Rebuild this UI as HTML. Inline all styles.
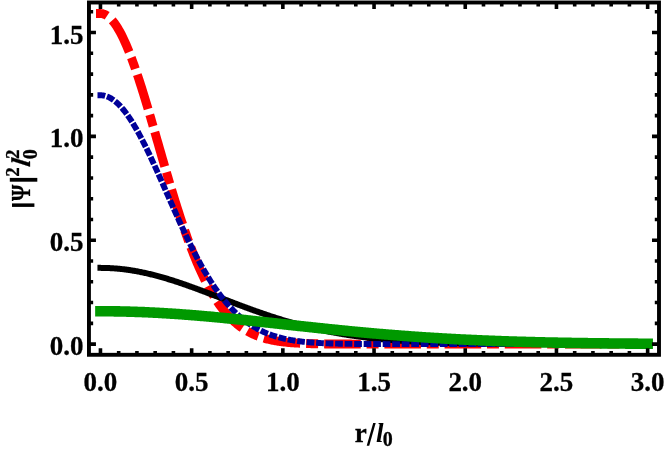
<!DOCTYPE html>
<html><head><meta charset="utf-8"><title>plot</title>
<style>
html,body{margin:0;padding:0;background:#fff;}
body{width:664px;height:450px;overflow:hidden;font-family:"Liberation Serif",serif;}
svg{display:block;}
.t{filter:grayscale(1);}
</style></head><body>
<svg width="664" height="450" viewBox="0 0 664 450">
<rect width="664" height="450" fill="#fff"/>
<g fill="none" stroke-linejoin="round">
<path d="M96.00 13.54 L100.45 13.54 L101.36 13.58 L102.27 13.70 L103.19 13.91 L104.10 14.20 L105.01 14.57 L105.92 15.02 L106.83 15.55 L107.75 16.17 L108.66 16.87 L109.57 17.64 L110.48 18.50 L111.39 19.43 L112.31 20.45 L113.22 21.54 L114.13 22.70 L115.04 23.95 L115.95 25.26 L116.87 26.66 L117.78 28.12 L118.69 29.66 L119.60 31.26 L120.51 32.94 L121.43 34.69 L122.34 36.50 L123.25 38.38 L124.16 40.32 L125.07 42.33 L125.99 44.39 L126.90 46.52 L127.81 48.71 L128.72 50.95 L129.63 53.25 L130.55 55.60 L131.46 58.01 L132.37 60.47 L133.28 62.97 L134.19 65.53 L135.11 68.13 L136.02 70.77 L136.93 73.46 L137.84 76.18 L138.75 78.95 L139.67 81.75 L140.58 84.59 L141.49 87.46 L142.40 90.36 L143.31 93.29 L144.23 96.26 L145.14 99.24 L146.05 102.25 L146.96 105.29 L147.87 108.34 L148.79 111.42 L149.70 114.51 L150.61 117.62 L151.52 120.74 L152.43 123.87 L153.35 127.01 L154.26 130.16 L155.17 133.32 L156.08 136.49 L156.99 139.65 L157.91 142.82 L158.82 145.99 L159.73 149.16 L160.64 152.33 L161.55 155.49 L162.47 158.65 L163.38 161.80 L164.29 164.94 L165.20 168.07 L166.11 171.18 L167.03 174.29 L167.94 177.38 L168.85 180.46 L169.76 183.52 L170.67 186.56 L171.59 189.58 L172.50 192.59 L173.41 195.57 L174.32 198.53 L175.23 201.46 L176.15 204.37 L177.06 207.26 L177.97 210.12 L178.88 212.96 L179.79 215.76 L180.71 218.54 L181.62 221.29 L182.53 224.00 L183.44 226.69 L184.35 229.34 L185.27 231.97 L186.18 234.56 L187.09 237.12 L188.00 239.64 L188.91 242.13 L189.83 244.59 L190.74 247.01 L191.65 249.39 L192.56 251.74 L193.47 254.06 L194.39 256.33 L195.30 258.58 L196.21 260.78 L197.12 262.95 L198.03 265.08 L198.95 267.18 L199.86 269.24 L200.77 271.26 L201.68 273.24 L202.59 275.19 L203.51 277.10 L204.42 278.98 L205.33 280.81 L206.24 282.61 L207.15 284.38 L208.07 286.11 L208.98 287.80 L209.89 289.46 L210.80 291.08 L211.71 292.67 L212.63 294.22 L213.54 295.73 L214.45 297.22 L215.36 298.66 L216.27 300.08 L217.19 301.46 L218.10 302.81 L219.01 304.12 L219.92 305.41 L220.83 306.66 L221.75 307.88 L222.66 309.07 L223.57 310.22 L224.48 311.35 L225.39 312.45 L226.31 313.52 L227.22 314.56 L228.13 315.57 L229.04 316.56 L229.95 317.52 L230.87 318.45 L231.78 319.35 L232.69 320.23 L233.60 321.08 L234.51 321.91 L235.43 322.71 L236.34 323.49 L237.25 324.25 L238.16 324.98 L239.07 325.69 L239.99 326.38 L240.90 327.05 L241.81 327.69 L242.72 328.32 L243.63 328.92 L244.55 329.51 L245.46 330.08 L246.37 330.63 L247.28 331.16 L248.19 331.67 L249.11 332.16 L250.02 332.64 L250.93 333.10 L251.84 333.55 L252.75 333.98 L253.67 334.39 L254.58 334.79 L255.49 335.18 L256.40 335.55 L257.31 335.91 L258.23 336.26 L259.14 336.59 L260.05 336.91 L260.96 337.22 L261.87 337.52 L262.79 337.80 L263.70 338.08 L264.61 338.34 L265.52 338.59 L266.43 338.84 L267.35 339.07 L268.26 339.30 L269.17 339.52 L270.08 339.72 L270.99 339.92 L271.91 340.11 L272.82 340.30 L273.73 340.47 L274.64 340.64 L275.55 340.80 L276.47 340.96 L277.38 341.11 L278.29 341.25 L279.20 341.38 L280.11 341.52 L281.03 341.64 L281.94 341.76 L282.85 341.87 L283.76 341.98 L284.67 342.09 L285.59 342.19 L286.50 342.28 L287.41 342.37 L288.32 342.46 L289.23 342.54 L290.15 342.62 L291.06 342.69 L291.97 342.77 L292.88 342.83 L293.79 342.90 L294.71 342.96 L295.62 343.02 L296.53 343.08 L297.44 343.13 L298.35 343.18 L299.27 343.23 L300.18 343.28 L301.09 343.32 L302.00 343.36 L302.91 343.40 L303.83 343.44 L304.74 343.48 L305.65 343.51 L306.56 343.54 L307.47 343.57 L308.39 343.60 L309.30 343.63 L310.21 343.66 L311.12 343.68 L312.03 343.70 L312.95 343.73 L313.86 343.75 L314.77 343.77 L315.68 343.79 L316.59 343.80 L317.51 343.82 L318.42 343.84 L319.33 343.85 L320.24 343.87 L321.15 343.88 L322.07 343.89 L322.98 343.91 L323.89 343.92 L324.80 343.93 L325.71 343.94 L326.63 343.95 L327.54 343.96 L328.45 343.97 L329.36 343.97 L330.27 343.98 L331.19 343.99 L332.10 344.00 L333.01 344.00 L333.92 344.01 L334.83 344.01 L335.75 344.02 L336.66 344.02 L337.57 344.03 L338.48 344.03 L339.39 344.04 L340.31 344.04 L341.22 344.05 L342.13 344.05 L343.04 344.05 L343.95 344.06 L344.87 344.06 L345.78 344.06 L346.69 344.06 L347.60 344.07 L348.51 344.07 L349.43 344.07 L350.34 344.07 L351.25 344.07 L352.16 344.08 L353.07 344.08 L353.99 344.08 L354.90 344.08 L355.81 344.08 L356.72 344.08 L357.63 344.08 L358.55 344.09 L359.46 344.09 L360.37 344.09 L361.28 344.09 L362.19 344.09 L363.11 344.09 L364.02 344.09 L364.93 344.09 L365.84 344.09 L366.75 344.09 L367.67 344.09 L368.58 344.09 L369.49 344.09 L370.40 344.09 L371.31 344.09 L372.23 344.10 L373.14 344.10 L374.05 344.10 L374.96 344.10 L375.87 344.10 L376.79 344.10 L377.70 344.10 L378.61 344.10 L379.52 344.10 L380.43 344.10 L381.35 344.10 L382.26 344.10 L383.17 344.10 L384.08 344.10 L384.99 344.10 L385.91 344.10 L386.82 344.10 L387.73 344.10 L388.64 344.10 L389.55 344.10 L390.47 344.10 L391.38 344.10 L392.29 344.10 L393.20 344.10 L394.11 344.10 L395.03 344.10 L395.94 344.10 L396.85 344.10 L397.76 344.10 L398.67 344.10 L399.59 344.10 L400.50 344.10 L401.41 344.10 L402.32 344.10 L403.23 344.10 L404.15 344.10 L405.06 344.10 L405.97 344.10 L406.88 344.10 L407.79 344.10 L408.71 344.10 L409.62 344.10 L410.53 344.10 L411.44 344.10 L412.35 344.10 L413.27 344.10 L414.18 344.10 L415.09 344.10 L416.00 344.10 L416.91 344.10 L417.83 344.10 L418.74 344.10 L419.65 344.10 L420.56 344.10 L421.47 344.10 L422.39 344.10 L423.30 344.10 L424.21 344.10 L425.12 344.10 L426.03 344.10 L426.95 344.10 L427.86 344.10 L428.77 344.10 L429.68 344.10 L430.59 344.10 L431.51 344.10 L432.42 344.10 L433.33 344.10 L434.24 344.10 L435.15 344.10 L436.07 344.10 L436.98 344.10 L437.89 344.10 L438.80 344.10 L439.71 344.10 L440.63 344.10 L441.54 344.10 L442.45 344.10 L443.36 344.10 L444.27 344.10 L445.19 344.10 L446.10 344.10 L447.01 344.10 L447.92 344.10 L448.83 344.10 L449.75 344.10 L450.66 344.10 L451.57 344.10 L452.48 344.10 L453.39 344.10 L454.31 344.10 L455.22 344.10 L456.13 344.10 L457.04 344.10 L457.95 344.10 L458.87 344.10 L459.78 344.10 L460.69 344.10 L461.60 344.10 L462.51 344.10 L463.43 344.10 L464.34 344.10 L465.25 344.10 L466.16 344.10 L467.07 344.10 L467.99 344.10 L468.90 344.10 L469.81 344.10 L470.72 344.10 L471.63 344.10 L472.55 344.10 L473.46 344.10 L474.37 344.10 L475.28 344.10 L476.19 344.10 L477.11 344.10 L478.02 344.10 L478.93 344.10 L479.84 344.10 L480.75 344.10 L481.67 344.10 L482.58 344.10 L483.49 344.10 L484.40 344.10 L485.31 344.10 L486.23 344.10 L487.14 344.10 L488.05 344.10 L488.96 344.10 L489.87 344.10 L490.79 344.10 L491.70 344.10 L492.61 344.10 L493.52 344.10 L494.43 344.10 L495.35 344.10 L496.26 344.10 L497.17 344.10 L498.08 344.10 L498.99 344.10 L499.91 344.10 L500.82 344.10 L501.73 344.10 L502.64 344.10 L503.55 344.10 L504.47 344.10 L505.38 344.10 L506.29 344.10 L507.20 344.10 L508.11 344.10 L509.03 344.10 L509.94 344.10 L510.85 344.10 L511.76 344.10 L512.67 344.10 L513.59 344.10 L514.50 344.10 L515.41 344.10 L516.32 344.10 L517.23 344.10 L518.15 344.10 L519.06 344.10 L519.97 344.10 L520.88 344.10 L521.79 344.10 L522.71 344.10 L523.62 344.10 L524.53 344.10 L525.44 344.10 L526.35 344.10 L527.27 344.10 L528.18 344.10 L529.09 344.10 L530.00 344.10 L530.91 344.10 L531.83 344.10 L532.74 344.10 L533.65 344.10 L534.56 344.10 L535.47 344.10 L536.39 344.10 L537.30 344.10 L538.21 344.10 L539.12 344.10 L540.03 344.10 L540.95 344.10 L541.86 344.10 L542.77 344.10 L543.68 344.10 L544.59 344.10 L545.51 344.10 L546.42 344.10 L547.33 344.10 L548.24 344.10 L549.15 344.10 L550.07 344.10 L550.98 344.10 L551.89 344.10 L552.80 344.10 L553.71 344.10 L554.63 344.10 L555.54 344.10 L556.45 344.10 L557.36 344.10 L558.27 344.10 L559.19 344.10 L560.10 344.10 L561.01 344.10 L561.92 344.10 L562.83 344.10 L563.75 344.10 L564.66 344.10 L565.57 344.10 L566.48 344.10 L567.39 344.10 L568.31 344.10 L569.22 344.10 L570.13 344.10 L571.04 344.10 L571.95 344.10 L572.87 344.10 L573.78 344.10 L574.69 344.10 L575.60 344.10 L576.51 344.10 L577.43 344.10 L578.34 344.10 L579.25 344.10 L580.16 344.10 L581.07 344.10 L581.99 344.10 L582.90 344.10 L583.81 344.10 L584.72 344.10 L585.63 344.10 L586.55 344.10 L587.46 344.10 L588.37 344.10 L589.28 344.10 L590.19 344.10 L591.11 344.10 L592.02 344.10 L592.93 344.10 L593.84 344.10 L594.75 344.10 L595.67 344.10 L596.58 344.10 L597.49 344.10 L598.40 344.10 L599.31 344.10 L600.23 344.10 L601.14 344.10 L602.05 344.10 L602.96 344.10 L603.87 344.10 L604.79 344.10 L605.70 344.10 L606.61 344.10 L607.52 344.10 L608.43 344.10 L609.35 344.10 L610.26 344.10 L611.17 344.10 L612.08 344.10 L612.99 344.10 L613.91 344.10 L614.82 344.10 L615.73 344.10 L616.64 344.10 L617.55 344.10 L618.47 344.10 L619.38 344.10 L620.29 344.10 L621.20 344.10 L622.11 344.10 L623.03 344.10 L623.94 344.10 L624.85 344.10 L625.76 344.10 L626.67 344.10 L627.59 344.10 L628.50 344.10 L629.41 344.10 L630.32 344.10 L631.23 344.10 L632.15 344.10 L633.06 344.10 L633.97 344.10 L634.88 344.10 L635.79 344.10 L636.71 344.10 L637.62 344.10 L638.53 344.10 L639.44 344.10 L640.35 344.10 L641.27 344.10 L642.18 344.10 L643.09 344.10 L644.00 344.10 L644.91 344.10 L645.83 344.10 L646.74 344.10 L647.65 344.10 L652.10 344.10" stroke="#ff0000" stroke-width="8.90" stroke-dasharray="11.6 6.9 36 6 12 6 36 6 12 6 36 6 12 6 36.675 6 12 6 36.675 6 12 6 36.675 6 12 6 36.675 6 12 6 36.6 5.8 12 5.8 36.6 5.8 12 5.8 36.6 5.8 12 5.8 36.6 5.8 12 5.8 36.6 5.8 12 5.8 36.6 5.8 12 5.8 36.6 5.8 12 5.8 36.6 5.8 12 5.8"/>
<path d="M97.45 267.87 L100.45 267.87 L101.36 267.88 L102.27 267.88 L103.19 267.89 L104.10 267.91 L105.01 267.93 L105.92 267.95 L106.83 267.98 L107.75 268.01 L108.66 268.05 L109.57 268.09 L110.48 268.14 L111.39 268.19 L112.31 268.24 L113.22 268.30 L114.13 268.37 L115.04 268.43 L115.95 268.51 L116.87 268.58 L117.78 268.66 L118.69 268.75 L119.60 268.84 L120.51 268.93 L121.43 269.03 L122.34 269.13 L123.25 269.24 L124.16 269.34 L125.07 269.46 L125.99 269.58 L126.90 269.70 L127.81 269.83 L128.72 269.96 L129.63 270.09 L130.55 270.23 L131.46 270.37 L132.37 270.52 L133.28 270.67 L134.19 270.82 L135.11 270.98 L136.02 271.14 L136.93 271.31 L137.84 271.48 L138.75 271.65 L139.67 271.83 L140.58 272.01 L141.49 272.20 L142.40 272.38 L143.31 272.58 L144.23 272.77 L145.14 272.97 L146.05 273.17 L146.96 273.38 L147.87 273.59 L148.79 273.80 L149.70 274.02 L150.61 274.24 L151.52 274.46 L152.43 274.69 L153.35 274.92 L154.26 275.15 L155.17 275.39 L156.08 275.63 L156.99 275.87 L157.91 276.11 L158.82 276.36 L159.73 276.61 L160.64 276.87 L161.55 277.13 L162.47 277.39 L163.38 277.65 L164.29 277.91 L165.20 278.18 L166.11 278.45 L167.03 278.73 L167.94 279.00 L168.85 279.28 L169.76 279.56 L170.67 279.85 L171.59 280.14 L172.50 280.42 L173.41 280.72 L174.32 281.01 L175.23 281.30 L176.15 281.60 L177.06 281.90 L177.97 282.20 L178.88 282.51 L179.79 282.82 L180.71 283.12 L181.62 283.43 L182.53 283.75 L183.44 284.06 L184.35 284.38 L185.27 284.69 L186.18 285.01 L187.09 285.33 L188.00 285.66 L188.91 285.98 L189.83 286.31 L190.74 286.63 L191.65 286.96 L192.56 287.29 L193.47 287.62 L194.39 287.96 L195.30 288.29 L196.21 288.63 L197.12 288.96 L198.03 289.30 L198.95 289.64 L199.86 289.98 L200.77 290.32 L201.68 290.66 L202.59 291.00 L203.51 291.35 L204.42 291.69 L205.33 292.03 L206.24 292.38 L207.15 292.73 L208.07 293.07 L208.98 293.42 L209.89 293.77 L210.80 294.12 L211.71 294.47 L212.63 294.81 L213.54 295.16 L214.45 295.51 L215.36 295.86 L216.27 296.22 L217.19 296.57 L218.10 296.92 L219.01 297.27 L219.92 297.62 L220.83 297.97 L221.75 298.32 L222.66 298.67 L223.57 299.02 L224.48 299.37 L225.39 299.72 L226.31 300.07 L227.22 300.42 L228.13 300.77 L229.04 301.12 L229.95 301.47 L230.87 301.82 L231.78 302.17 L232.69 302.52 L233.60 302.87 L234.51 303.21 L235.43 303.56 L236.34 303.90 L237.25 304.25 L238.16 304.59 L239.07 304.94 L239.99 305.28 L240.90 305.62 L241.81 305.96 L242.72 306.30 L243.63 306.64 L244.55 306.98 L245.46 307.32 L246.37 307.66 L247.28 307.99 L248.19 308.33 L249.11 308.66 L250.02 308.99 L250.93 309.32 L251.84 309.65 L252.75 309.98 L253.67 310.31 L254.58 310.64 L255.49 310.96 L256.40 311.29 L257.31 311.61 L258.23 311.93 L259.14 312.25 L260.05 312.57 L260.96 312.89 L261.87 313.20 L262.79 313.52 L263.70 313.83 L264.61 314.14 L265.52 314.45 L266.43 314.76 L267.35 315.07 L268.26 315.37 L269.17 315.68 L270.08 315.98 L270.99 316.28 L271.91 316.58 L272.82 316.88 L273.73 317.17 L274.64 317.47 L275.55 317.76 L276.47 318.05 L277.38 318.34 L278.29 318.63 L279.20 318.91 L280.11 319.20 L281.03 319.48 L281.94 319.76 L282.85 320.04 L283.76 320.31 L284.67 320.59 L285.59 320.86 L286.50 321.13 L287.41 321.40 L288.32 321.67 L289.23 321.93 L290.15 322.20 L291.06 322.46 L291.97 322.72 L292.88 322.98 L293.79 323.23 L294.71 323.49 L295.62 323.74 L296.53 323.99 L297.44 324.24 L298.35 324.48 L299.27 324.73 L300.18 324.97 L301.09 325.21 L302.00 325.45 L302.91 325.69 L303.83 325.92 L304.74 326.15 L305.65 326.38 L306.56 326.61 L307.47 326.84 L308.39 327.06 L309.30 327.29 L310.21 327.51 L311.12 327.73 L312.03 327.94 L312.95 328.16 L313.86 328.37 L314.77 328.58 L315.68 328.79 L316.59 329.00 L317.51 329.21 L318.42 329.41 L319.33 329.61 L320.24 329.81 L321.15 330.01 L322.07 330.20 L322.98 330.40 L323.89 330.59 L324.80 330.78 L325.71 330.97 L326.63 331.15 L327.54 331.34 L328.45 331.52 L329.36 331.70 L330.27 331.88 L331.19 332.05 L332.10 332.23 L333.01 332.40 L333.92 332.57 L334.83 332.74 L335.75 332.91 L336.66 333.08 L337.57 333.24 L338.48 333.40 L339.39 333.56 L340.31 333.72 L341.22 333.88 L342.13 334.03 L343.04 334.18 L343.95 334.33 L344.87 334.48 L345.78 334.63 L346.69 334.78 L347.60 334.92 L348.51 335.06 L349.43 335.21 L350.34 335.34 L351.25 335.48 L352.16 335.62 L353.07 335.75 L353.99 335.88 L354.90 336.02 L355.81 336.14 L356.72 336.27 L357.63 336.40 L358.55 336.52 L359.46 336.65 L360.37 336.77 L361.28 336.89 L362.19 337.00 L363.11 337.12 L364.02 337.24 L364.93 337.35 L365.84 337.46 L366.75 337.57 L367.67 337.68 L368.58 337.79 L369.49 337.90 L370.40 338.00 L371.31 338.10 L372.23 338.21 L373.14 338.31 L374.05 338.41 L374.96 338.50 L375.87 338.60 L376.79 338.69 L377.70 338.79 L378.61 338.88 L379.52 338.97 L380.43 339.06 L381.35 339.15 L382.26 339.24 L383.17 339.32 L384.08 339.41 L384.99 339.49 L385.91 339.57 L386.82 339.66 L387.73 339.73 L388.64 339.81 L389.55 339.89 L390.47 339.97 L391.38 340.04 L392.29 340.12 L393.20 340.19 L394.11 340.26 L395.03 340.33 L395.94 340.40 L396.85 340.47 L397.76 340.54 L398.67 340.60 L399.59 340.67 L400.50 340.73 L401.41 340.80 L402.32 340.86 L403.23 340.92 L404.15 340.98 L405.06 341.04 L405.97 341.10 L406.88 341.16 L407.79 341.21 L408.71 341.27 L409.62 341.32 L410.53 341.38 L411.44 341.43 L412.35 341.48 L413.27 341.53 L414.18 341.58 L415.09 341.63 L416.00 341.68 L416.91 341.73 L417.83 341.78 L418.74 341.82 L419.65 341.87 L420.56 341.91 L421.47 341.96 L422.39 342.00 L423.30 342.04 L424.21 342.08 L425.12 342.12 L426.03 342.17 L426.95 342.20 L427.86 342.24 L428.77 342.28 L429.68 342.32 L430.59 342.36 L431.51 342.39 L432.42 342.43 L433.33 342.46 L434.24 342.50 L435.15 342.53 L436.07 342.56 L436.98 342.59 L437.89 342.63 L438.80 342.66 L439.71 342.69 L440.63 342.72 L441.54 342.75 L442.45 342.78 L443.36 342.80 L444.27 342.83 L445.19 342.86 L446.10 342.89 L447.01 342.91 L447.92 342.94 L448.83 342.96 L449.75 342.99 L450.66 343.01 L451.57 343.04 L452.48 343.06 L453.39 343.08 L454.31 343.11 L455.22 343.13 L456.13 343.15 L457.04 343.17 L457.95 343.19 L458.87 343.21 L459.78 343.23 L460.69 343.25 L461.60 343.27 L462.51 343.29 L463.43 343.31 L464.34 343.33 L465.25 343.34 L466.16 343.36 L467.07 343.38 L467.99 343.39 L468.90 343.41 L469.81 343.43 L470.72 343.44 L471.63 343.46 L472.55 343.47 L473.46 343.49 L474.37 343.50 L475.28 343.51 L476.19 343.53 L477.11 343.54 L478.02 343.55 L478.93 343.57 L479.84 343.58 L480.75 343.59 L481.67 343.60 L482.58 343.62 L483.49 343.63 L484.40 343.64 L485.31 343.65 L486.23 343.66 L487.14 343.67 L488.05 343.68 L488.96 343.69 L489.87 343.70 L490.79 343.71 L491.70 343.72 L492.61 343.73 L493.52 343.74 L494.43 343.75 L495.35 343.76 L496.26 343.77 L497.17 343.77 L498.08 343.78 L498.99 343.79 L499.91 343.80 L500.82 343.81 L501.73 343.81 L502.64 343.82 L503.55 343.83 L504.47 343.83 L505.38 343.84 L506.29 343.85 L507.20 343.85 L508.11 343.86 L509.03 343.87 L509.94 343.87 L510.85 343.88 L511.76 343.88 L512.67 343.89 L513.59 343.89 L514.50 343.90 L515.41 343.90 L516.32 343.91 L517.23 343.91 L518.15 343.92 L519.06 343.92 L519.97 343.93 L520.88 343.93 L521.79 343.94 L522.71 343.94 L523.62 343.95 L524.53 343.95 L525.44 343.95 L526.35 343.96 L527.27 343.96 L528.18 343.97 L529.09 343.97 L530.00 343.97 L530.91 343.98 L531.83 343.98 L532.74 343.98 L533.65 343.99 L534.56 343.99 L535.47 343.99 L536.39 343.99 L537.30 344.00 L538.21 344.00 L539.12 344.00 L540.03 344.01 L540.95 344.01 L541.86 344.01 L542.77 344.01 L543.68 344.02 L544.59 344.02 L545.51 344.02 L546.42 344.02 L547.33 344.02 L548.24 344.03 L549.15 344.03 L550.07 344.03 L550.98 344.03 L551.89 344.03 L552.80 344.04 L553.71 344.04 L554.63 344.04 L555.54 344.04 L556.45 344.04 L557.36 344.05 L558.27 344.05 L559.19 344.05 L560.10 344.05 L561.01 344.05 L561.92 344.05 L562.83 344.05 L563.75 344.06 L564.66 344.06 L565.57 344.06 L566.48 344.06 L567.39 344.06 L568.31 344.06 L569.22 344.06 L570.13 344.06 L571.04 344.06 L571.95 344.07 L572.87 344.07 L573.78 344.07 L574.69 344.07 L575.60 344.07 L576.51 344.07 L577.43 344.07 L578.34 344.07 L579.25 344.07 L580.16 344.07 L581.07 344.07 L581.99 344.08 L582.90 344.08 L583.81 344.08 L584.72 344.08 L585.63 344.08 L586.55 344.08 L587.46 344.08 L588.37 344.08 L589.28 344.08 L590.19 344.08 L591.11 344.08 L592.02 344.08 L592.93 344.08 L593.84 344.08 L594.75 344.08 L595.67 344.08 L596.58 344.08 L597.49 344.09 L598.40 344.09 L599.31 344.09 L600.23 344.09 L601.14 344.09 L602.05 344.09 L602.96 344.09 L603.87 344.09 L604.79 344.09 L605.70 344.09 L606.61 344.09 L607.52 344.09 L608.43 344.09 L609.35 344.09 L610.26 344.09 L611.17 344.09 L612.08 344.09 L612.99 344.09 L613.91 344.09 L614.82 344.09 L615.73 344.09 L616.64 344.09 L617.55 344.09 L618.47 344.09 L619.38 344.09 L620.29 344.09 L621.20 344.09 L622.11 344.09 L623.03 344.09 L623.94 344.09 L624.85 344.09 L625.76 344.09 L626.67 344.09 L627.59 344.09 L628.50 344.10 L629.41 344.10 L630.32 344.10 L631.23 344.10 L632.15 344.10 L633.06 344.10 L633.97 344.10 L634.88 344.10 L635.79 344.10 L636.71 344.10 L637.62 344.10 L638.53 344.10 L639.44 344.10 L640.35 344.10 L641.27 344.10 L642.18 344.10 L643.09 344.10 L644.00 344.10 L644.91 344.10 L645.83 344.10 L646.74 344.10 L647.65 344.10 L650.65 344.10" stroke="#000" stroke-width="6.00"/>
<path d="M97.50 95.28 L100.45 95.28 L101.36 95.30 L102.27 95.37 L103.19 95.49 L104.10 95.65 L105.01 95.86 L105.92 96.12 L106.83 96.42 L107.75 96.77 L108.66 97.17 L109.57 97.61 L110.48 98.10 L111.39 98.63 L112.31 99.21 L113.22 99.83 L114.13 100.50 L115.04 101.21 L115.95 101.96 L116.87 102.76 L117.78 103.60 L118.69 104.48 L119.60 105.41 L120.51 106.37 L121.43 107.38 L122.34 108.42 L123.25 109.51 L124.16 110.63 L125.07 111.80 L125.99 113.00 L126.90 114.24 L127.81 115.51 L128.72 116.82 L129.63 118.17 L130.55 119.55 L131.46 120.96 L132.37 122.41 L133.28 123.89 L134.19 125.40 L135.11 126.94 L136.02 128.51 L136.93 130.11 L137.84 131.73 L138.75 133.39 L139.67 135.07 L140.58 136.78 L141.49 138.51 L142.40 140.26 L143.31 142.04 L144.23 143.84 L145.14 145.67 L146.05 147.51 L146.96 149.37 L147.87 151.25 L148.79 153.15 L149.70 155.07 L150.61 157.00 L151.52 158.95 L152.43 160.91 L153.35 162.88 L154.26 164.87 L155.17 166.87 L156.08 168.88 L156.99 170.90 L157.91 172.93 L158.82 174.96 L159.73 177.01 L160.64 179.06 L161.55 181.11 L162.47 183.17 L163.38 185.24 L164.29 187.31 L165.20 189.38 L166.11 191.45 L167.03 193.52 L167.94 195.59 L168.85 197.66 L169.76 199.73 L170.67 201.80 L171.59 203.86 L172.50 205.92 L173.41 207.98 L174.32 210.03 L175.23 212.07 L176.15 214.11 L177.06 216.14 L177.97 218.16 L178.88 220.17 L179.79 222.18 L180.71 224.17 L181.62 226.16 L182.53 228.13 L183.44 230.09 L184.35 232.04 L185.27 233.98 L186.18 235.90 L187.09 237.81 L188.00 239.71 L188.91 241.59 L189.83 243.46 L190.74 245.31 L191.65 247.14 L192.56 248.96 L193.47 250.77 L194.39 252.55 L195.30 254.32 L196.21 256.07 L197.12 257.80 L198.03 259.52 L198.95 261.22 L199.86 262.89 L200.77 264.55 L201.68 266.19 L202.59 267.81 L203.51 269.41 L204.42 270.99 L205.33 272.56 L206.24 274.10 L207.15 275.62 L208.07 277.12 L208.98 278.60 L209.89 280.06 L210.80 281.49 L211.71 282.91 L212.63 284.31 L213.54 285.68 L214.45 287.04 L215.36 288.37 L216.27 289.69 L217.19 290.98 L218.10 292.25 L219.01 293.50 L219.92 294.73 L220.83 295.94 L221.75 297.13 L222.66 298.29 L223.57 299.44 L224.48 300.57 L225.39 301.67 L226.31 302.76 L227.22 303.82 L228.13 304.87 L229.04 305.89 L229.95 306.90 L230.87 307.88 L231.78 308.85 L232.69 309.80 L233.60 310.73 L234.51 311.64 L235.43 312.53 L236.34 313.40 L237.25 314.25 L238.16 315.09 L239.07 315.90 L239.99 316.70 L240.90 317.48 L241.81 318.25 L242.72 318.99 L243.63 319.72 L244.55 320.44 L245.46 321.13 L246.37 321.81 L247.28 322.48 L248.19 323.13 L249.11 323.76 L250.02 324.38 L250.93 324.98 L251.84 325.57 L252.75 326.14 L253.67 326.70 L254.58 327.24 L255.49 327.77 L256.40 328.29 L257.31 328.79 L258.23 329.28 L259.14 329.76 L260.05 330.22 L260.96 330.67 L261.87 331.11 L262.79 331.54 L263.70 331.95 L264.61 332.36 L265.52 332.75 L266.43 333.13 L267.35 333.50 L268.26 333.86 L269.17 334.21 L270.08 334.55 L270.99 334.88 L271.91 335.20 L272.82 335.51 L273.73 335.82 L274.64 336.11 L275.55 336.39 L276.47 336.67 L277.38 336.93 L278.29 337.19 L279.20 337.44 L280.11 337.68 L281.03 337.92 L281.94 338.14 L282.85 338.36 L283.76 338.58 L284.67 338.78 L285.59 338.98 L286.50 339.17 L287.41 339.36 L288.32 339.54 L289.23 339.71 L290.15 339.88 L291.06 340.05 L291.97 340.20 L292.88 340.35 L293.79 340.50 L294.71 340.64 L295.62 340.78 L296.53 340.91 L297.44 341.04 L298.35 341.16 L299.27 341.28 L300.18 341.39 L301.09 341.50 L302.00 341.61 L302.91 341.71 L303.83 341.81 L304.74 341.90 L305.65 341.99 L306.56 342.08 L307.47 342.16 L308.39 342.25 L309.30 342.32 L310.21 342.40 L311.12 342.47 L312.03 342.54 L312.95 342.61 L313.86 342.67 L314.77 342.73 L315.68 342.79 L316.59 342.85 L317.51 342.90 L318.42 342.96 L319.33 343.01 L320.24 343.06 L321.15 343.10 L322.07 343.15 L322.98 343.19 L323.89 343.23 L324.80 343.27 L325.71 343.31 L326.63 343.34 L327.54 343.38 L328.45 343.41 L329.36 343.44 L330.27 343.47 L331.19 343.50 L332.10 343.53 L333.01 343.56 L333.92 343.58 L334.83 343.61 L335.75 343.63 L336.66 343.65 L337.57 343.67 L338.48 343.69 L339.39 343.71 L340.31 343.73 L341.22 343.75 L342.13 343.77 L343.04 343.78 L343.95 343.80 L344.87 343.81 L345.78 343.83 L346.69 343.84 L347.60 343.85 L348.51 343.87 L349.43 343.88 L350.34 343.89 L351.25 343.90 L352.16 343.91 L353.07 343.92 L353.99 343.93 L354.90 343.94 L355.81 343.95 L356.72 343.95 L357.63 343.96 L358.55 343.97 L359.46 343.98 L360.37 343.98 L361.28 343.99 L362.19 343.99 L363.11 344.00 L364.02 344.01 L364.93 344.01 L365.84 344.01 L366.75 344.02 L367.67 344.02 L368.58 344.03 L369.49 344.03 L370.40 344.04 L371.31 344.04 L372.23 344.04 L373.14 344.05 L374.05 344.05 L374.96 344.05 L375.87 344.05 L376.79 344.06 L377.70 344.06 L378.61 344.06 L379.52 344.06 L380.43 344.07 L381.35 344.07 L382.26 344.07 L383.17 344.07 L384.08 344.07 L384.99 344.07 L385.91 344.08 L386.82 344.08 L387.73 344.08 L388.64 344.08 L389.55 344.08 L390.47 344.08 L391.38 344.08 L392.29 344.08 L393.20 344.08 L394.11 344.09 L395.03 344.09 L395.94 344.09 L396.85 344.09 L397.76 344.09 L398.67 344.09 L399.59 344.09 L400.50 344.09 L401.41 344.09 L402.32 344.09 L403.23 344.09 L404.15 344.09 L405.06 344.09 L405.97 344.09 L406.88 344.09 L407.79 344.09 L408.71 344.09 L409.62 344.10 L410.53 344.10 L411.44 344.10 L412.35 344.10 L413.27 344.10 L414.18 344.10 L415.09 344.10 L416.00 344.10 L416.91 344.10 L417.83 344.10 L418.74 344.10 L419.65 344.10 L420.56 344.10 L421.47 344.10 L422.39 344.10 L423.30 344.10 L424.21 344.10 L425.12 344.10 L426.03 344.10 L426.95 344.10 L427.86 344.10 L428.77 344.10 L429.68 344.10 L430.59 344.10 L431.51 344.10 L432.42 344.10 L433.33 344.10 L434.24 344.10 L435.15 344.10 L436.07 344.10 L436.98 344.10 L437.89 344.10 L438.80 344.10 L439.71 344.10 L440.63 344.10 L441.54 344.10 L442.45 344.10 L443.36 344.10 L444.27 344.10 L445.19 344.10 L446.10 344.10 L447.01 344.10 L447.92 344.10 L448.83 344.10 L449.75 344.10 L450.66 344.10 L451.57 344.10 L452.48 344.10 L453.39 344.10 L454.31 344.10 L455.22 344.10 L456.13 344.10 L457.04 344.10 L457.95 344.10 L458.87 344.10 L459.78 344.10 L460.69 344.10 L461.60 344.10 L462.51 344.10 L463.43 344.10 L464.34 344.10 L465.25 344.10 L466.16 344.10 L467.07 344.10 L467.99 344.10 L468.90 344.10 L469.81 344.10 L470.72 344.10 L471.63 344.10 L472.55 344.10 L473.46 344.10 L474.37 344.10 L475.28 344.10 L476.19 344.10 L477.11 344.10 L478.02 344.10 L478.93 344.10 L479.84 344.10 L480.75 344.10 L481.67 344.10 L482.58 344.10 L483.49 344.10 L484.40 344.10 L485.31 344.10 L486.23 344.10 L487.14 344.10 L488.05 344.10 L488.96 344.10 L489.87 344.10 L490.79 344.10 L491.70 344.10 L492.61 344.10 L493.52 344.10 L494.43 344.10 L495.35 344.10 L496.26 344.10 L497.17 344.10 L498.08 344.10 L498.99 344.10 L499.91 344.10 L500.82 344.10 L501.73 344.10 L502.64 344.10 L503.55 344.10 L504.47 344.10 L505.38 344.10 L506.29 344.10 L507.20 344.10 L508.11 344.10 L509.03 344.10 L509.94 344.10 L510.85 344.10 L511.76 344.10 L512.67 344.10 L513.59 344.10 L514.50 344.10 L515.41 344.10 L516.32 344.10 L517.23 344.10 L518.15 344.10 L519.06 344.10 L519.97 344.10 L520.88 344.10 L521.79 344.10 L522.71 344.10 L523.62 344.10 L524.53 344.10 L525.44 344.10 L526.35 344.10 L527.27 344.10 L528.18 344.10 L529.09 344.10 L530.00 344.10 L530.91 344.10 L531.83 344.10 L532.74 344.10 L533.65 344.10 L534.56 344.10 L535.47 344.10 L536.39 344.10 L537.30 344.10 L538.21 344.10 L539.12 344.10 L540.03 344.10 L540.95 344.10 L541.86 344.10 L542.77 344.10 L543.68 344.10 L544.59 344.10 L545.51 344.10 L546.42 344.10 L547.33 344.10 L548.24 344.10 L549.15 344.10 L550.07 344.10 L550.98 344.10 L551.89 344.10 L552.80 344.10 L553.71 344.10 L554.63 344.10 L555.54 344.10 L556.45 344.10 L557.36 344.10 L558.27 344.10 L559.19 344.10 L560.10 344.10 L561.01 344.10 L561.92 344.10 L562.83 344.10 L563.75 344.10 L564.66 344.10 L565.57 344.10 L566.48 344.10 L567.39 344.10 L568.31 344.10 L569.22 344.10 L570.13 344.10 L571.04 344.10 L571.95 344.10 L572.87 344.10 L573.78 344.10 L574.69 344.10 L575.60 344.10 L576.51 344.10 L577.43 344.10 L578.34 344.10 L579.25 344.10 L580.16 344.10 L581.07 344.10 L581.99 344.10 L582.90 344.10 L583.81 344.10 L584.72 344.10 L585.63 344.10 L586.55 344.10 L587.46 344.10 L588.37 344.10 L589.28 344.10 L590.19 344.10 L591.11 344.10 L592.02 344.10 L592.93 344.10 L593.84 344.10 L594.75 344.10 L595.67 344.10 L596.58 344.10 L597.49 344.10 L598.40 344.10 L599.31 344.10 L600.23 344.10 L601.14 344.10 L602.05 344.10 L602.96 344.10 L603.87 344.10 L604.79 344.10 L605.70 344.10 L606.61 344.10 L607.52 344.10 L608.43 344.10 L609.35 344.10 L610.26 344.10 L611.17 344.10 L612.08 344.10 L612.99 344.10 L613.91 344.10 L614.82 344.10 L615.73 344.10 L616.64 344.10 L617.55 344.10 L618.47 344.10 L619.38 344.10 L620.29 344.10 L621.20 344.10 L622.11 344.10 L623.03 344.10 L623.94 344.10 L624.85 344.10 L625.76 344.10 L626.67 344.10 L627.59 344.10 L628.50 344.10 L629.41 344.10 L630.32 344.10 L631.23 344.10 L632.15 344.10 L633.06 344.10 L633.97 344.10 L634.88 344.10 L635.79 344.10 L636.71 344.10 L637.62 344.10 L638.53 344.10 L639.44 344.10 L640.35 344.10 L641.27 344.10 L642.18 344.10 L643.09 344.10 L644.00 344.10 L644.91 344.10 L645.83 344.10 L646.74 344.10 L647.65 344.10 L650.60 344.10" stroke="#000099" stroke-width="5.90" stroke-dasharray="7.75 1.765"/>
<path d="M95.15 311.24 L100.45 311.24 L101.36 311.24 L102.27 311.24 L103.19 311.25 L104.10 311.25 L105.01 311.25 L105.92 311.26 L106.83 311.26 L107.75 311.27 L108.66 311.28 L109.57 311.28 L110.48 311.29 L111.39 311.30 L112.31 311.31 L113.22 311.32 L114.13 311.33 L115.04 311.35 L115.95 311.36 L116.87 311.37 L117.78 311.39 L118.69 311.41 L119.60 311.42 L120.51 311.44 L121.43 311.46 L122.34 311.48 L123.25 311.50 L124.16 311.52 L125.07 311.54 L125.99 311.56 L126.90 311.59 L127.81 311.61 L128.72 311.63 L129.63 311.66 L130.55 311.69 L131.46 311.71 L132.37 311.74 L133.28 311.77 L134.19 311.80 L135.11 311.83 L136.02 311.86 L136.93 311.89 L137.84 311.93 L138.75 311.96 L139.67 311.99 L140.58 312.03 L141.49 312.06 L142.40 312.10 L143.31 312.14 L144.23 312.17 L145.14 312.21 L146.05 312.25 L146.96 312.29 L147.87 312.33 L148.79 312.38 L149.70 312.42 L150.61 312.46 L151.52 312.50 L152.43 312.55 L153.35 312.59 L154.26 312.64 L155.17 312.69 L156.08 312.74 L156.99 312.78 L157.91 312.83 L158.82 312.88 L159.73 312.93 L160.64 312.98 L161.55 313.03 L162.47 313.09 L163.38 313.14 L164.29 313.19 L165.20 313.25 L166.11 313.30 L167.03 313.36 L167.94 313.42 L168.85 313.47 L169.76 313.53 L170.67 313.59 L171.59 313.65 L172.50 313.71 L173.41 313.77 L174.32 313.83 L175.23 313.89 L176.15 313.95 L177.06 314.02 L177.97 314.08 L178.88 314.14 L179.79 314.21 L180.71 314.27 L181.62 314.34 L182.53 314.41 L183.44 314.47 L184.35 314.54 L185.27 314.61 L186.18 314.68 L187.09 314.75 L188.00 314.82 L188.91 314.89 L189.83 314.96 L190.74 315.03 L191.65 315.10 L192.56 315.18 L193.47 315.25 L194.39 315.32 L195.30 315.40 L196.21 315.47 L197.12 315.55 L198.03 315.62 L198.95 315.70 L199.86 315.78 L200.77 315.85 L201.68 315.93 L202.59 316.01 L203.51 316.09 L204.42 316.17 L205.33 316.25 L206.24 316.33 L207.15 316.41 L208.07 316.49 L208.98 316.57 L209.89 316.65 L210.80 316.74 L211.71 316.82 L212.63 316.90 L213.54 316.99 L214.45 317.07 L215.36 317.16 L216.27 317.24 L217.19 317.33 L218.10 317.41 L219.01 317.50 L219.92 317.59 L220.83 317.67 L221.75 317.76 L222.66 317.85 L223.57 317.94 L224.48 318.02 L225.39 318.11 L226.31 318.20 L227.22 318.29 L228.13 318.38 L229.04 318.47 L229.95 318.56 L230.87 318.65 L231.78 318.74 L232.69 318.84 L233.60 318.93 L234.51 319.02 L235.43 319.11 L236.34 319.20 L237.25 319.30 L238.16 319.39 L239.07 319.48 L239.99 319.58 L240.90 319.67 L241.81 319.77 L242.72 319.86 L243.63 319.95 L244.55 320.05 L245.46 320.14 L246.37 320.24 L247.28 320.34 L248.19 320.43 L249.11 320.53 L250.02 320.62 L250.93 320.72 L251.84 320.82 L252.75 320.91 L253.67 321.01 L254.58 321.11 L255.49 321.20 L256.40 321.30 L257.31 321.40 L258.23 321.50 L259.14 321.59 L260.05 321.69 L260.96 321.79 L261.87 321.89 L262.79 321.99 L263.70 322.09 L264.61 322.18 L265.52 322.28 L266.43 322.38 L267.35 322.48 L268.26 322.58 L269.17 322.68 L270.08 322.78 L270.99 322.88 L271.91 322.98 L272.82 323.08 L273.73 323.17 L274.64 323.27 L275.55 323.37 L276.47 323.47 L277.38 323.57 L278.29 323.67 L279.20 323.77 L280.11 323.87 L281.03 323.97 L281.94 324.07 L282.85 324.17 L283.76 324.27 L284.67 324.37 L285.59 324.47 L286.50 324.57 L287.41 324.67 L288.32 324.77 L289.23 324.87 L290.15 324.97 L291.06 325.07 L291.97 325.17 L292.88 325.27 L293.79 325.36 L294.71 325.46 L295.62 325.56 L296.53 325.66 L297.44 325.76 L298.35 325.86 L299.27 325.96 L300.18 326.06 L301.09 326.16 L302.00 326.26 L302.91 326.35 L303.83 326.45 L304.74 326.55 L305.65 326.65 L306.56 326.75 L307.47 326.85 L308.39 326.94 L309.30 327.04 L310.21 327.14 L311.12 327.24 L312.03 327.33 L312.95 327.43 L313.86 327.53 L314.77 327.62 L315.68 327.72 L316.59 327.82 L317.51 327.91 L318.42 328.01 L319.33 328.11 L320.24 328.20 L321.15 328.30 L322.07 328.39 L322.98 328.49 L323.89 328.58 L324.80 328.68 L325.71 328.77 L326.63 328.87 L327.54 328.96 L328.45 329.06 L329.36 329.15 L330.27 329.24 L331.19 329.34 L332.10 329.43 L333.01 329.52 L333.92 329.62 L334.83 329.71 L335.75 329.80 L336.66 329.89 L337.57 329.99 L338.48 330.08 L339.39 330.17 L340.31 330.26 L341.22 330.35 L342.13 330.44 L343.04 330.53 L343.95 330.62 L344.87 330.71 L345.78 330.80 L346.69 330.89 L347.60 330.98 L348.51 331.07 L349.43 331.16 L350.34 331.24 L351.25 331.33 L352.16 331.42 L353.07 331.51 L353.99 331.59 L354.90 331.68 L355.81 331.77 L356.72 331.85 L357.63 331.94 L358.55 332.03 L359.46 332.11 L360.37 332.20 L361.28 332.28 L362.19 332.36 L363.11 332.45 L364.02 332.53 L364.93 332.62 L365.84 332.70 L366.75 332.78 L367.67 332.86 L368.58 332.95 L369.49 333.03 L370.40 333.11 L371.31 333.19 L372.23 333.27 L373.14 333.35 L374.05 333.43 L374.96 333.51 L375.87 333.59 L376.79 333.67 L377.70 333.75 L378.61 333.83 L379.52 333.91 L380.43 333.98 L381.35 334.06 L382.26 334.14 L383.17 334.22 L384.08 334.29 L384.99 334.37 L385.91 334.44 L386.82 334.52 L387.73 334.59 L388.64 334.67 L389.55 334.74 L390.47 334.82 L391.38 334.89 L392.29 334.96 L393.20 335.04 L394.11 335.11 L395.03 335.18 L395.94 335.25 L396.85 335.33 L397.76 335.40 L398.67 335.47 L399.59 335.54 L400.50 335.61 L401.41 335.68 L402.32 335.75 L403.23 335.82 L404.15 335.88 L405.06 335.95 L405.97 336.02 L406.88 336.09 L407.79 336.15 L408.71 336.22 L409.62 336.29 L410.53 336.35 L411.44 336.42 L412.35 336.48 L413.27 336.55 L414.18 336.61 L415.09 336.68 L416.00 336.74 L416.91 336.81 L417.83 336.87 L418.74 336.93 L419.65 336.99 L420.56 337.06 L421.47 337.12 L422.39 337.18 L423.30 337.24 L424.21 337.30 L425.12 337.36 L426.03 337.42 L426.95 337.48 L427.86 337.54 L428.77 337.60 L429.68 337.66 L430.59 337.71 L431.51 337.77 L432.42 337.83 L433.33 337.89 L434.24 337.94 L435.15 338.00 L436.07 338.05 L436.98 338.11 L437.89 338.16 L438.80 338.22 L439.71 338.27 L440.63 338.33 L441.54 338.38 L442.45 338.43 L443.36 338.49 L444.27 338.54 L445.19 338.59 L446.10 338.64 L447.01 338.70 L447.92 338.75 L448.83 338.80 L449.75 338.85 L450.66 338.90 L451.57 338.95 L452.48 339.00 L453.39 339.05 L454.31 339.10 L455.22 339.14 L456.13 339.19 L457.04 339.24 L457.95 339.29 L458.87 339.33 L459.78 339.38 L460.69 339.43 L461.60 339.47 L462.51 339.52 L463.43 339.56 L464.34 339.61 L465.25 339.65 L466.16 339.70 L467.07 339.74 L467.99 339.79 L468.90 339.83 L469.81 339.87 L470.72 339.91 L471.63 339.96 L472.55 340.00 L473.46 340.04 L474.37 340.08 L475.28 340.12 L476.19 340.16 L477.11 340.20 L478.02 340.24 L478.93 340.28 L479.84 340.32 L480.75 340.36 L481.67 340.40 L482.58 340.44 L483.49 340.48 L484.40 340.52 L485.31 340.55 L486.23 340.59 L487.14 340.63 L488.05 340.66 L488.96 340.70 L489.87 340.74 L490.79 340.77 L491.70 340.81 L492.61 340.84 L493.52 340.88 L494.43 340.91 L495.35 340.95 L496.26 340.98 L497.17 341.01 L498.08 341.05 L498.99 341.08 L499.91 341.11 L500.82 341.15 L501.73 341.18 L502.64 341.21 L503.55 341.24 L504.47 341.27 L505.38 341.30 L506.29 341.34 L507.20 341.37 L508.11 341.40 L509.03 341.43 L509.94 341.46 L510.85 341.49 L511.76 341.52 L512.67 341.54 L513.59 341.57 L514.50 341.60 L515.41 341.63 L516.32 341.66 L517.23 341.69 L518.15 341.71 L519.06 341.74 L519.97 341.77 L520.88 341.79 L521.79 341.82 L522.71 341.85 L523.62 341.87 L524.53 341.90 L525.44 341.92 L526.35 341.95 L527.27 341.97 L528.18 342.00 L529.09 342.02 L530.00 342.05 L530.91 342.07 L531.83 342.10 L532.74 342.12 L533.65 342.14 L534.56 342.17 L535.47 342.19 L536.39 342.21 L537.30 342.23 L538.21 342.26 L539.12 342.28 L540.03 342.30 L540.95 342.32 L541.86 342.34 L542.77 342.36 L543.68 342.38 L544.59 342.41 L545.51 342.43 L546.42 342.45 L547.33 342.47 L548.24 342.49 L549.15 342.51 L550.07 342.53 L550.98 342.54 L551.89 342.56 L552.80 342.58 L553.71 342.60 L554.63 342.62 L555.54 342.64 L556.45 342.66 L557.36 342.67 L558.27 342.69 L559.19 342.71 L560.10 342.73 L561.01 342.74 L561.92 342.76 L562.83 342.78 L563.75 342.79 L564.66 342.81 L565.57 342.83 L566.48 342.84 L567.39 342.86 L568.31 342.88 L569.22 342.89 L570.13 342.91 L571.04 342.92 L571.95 342.94 L572.87 342.95 L573.78 342.97 L574.69 342.98 L575.60 343.00 L576.51 343.01 L577.43 343.02 L578.34 343.04 L579.25 343.05 L580.16 343.07 L581.07 343.08 L581.99 343.09 L582.90 343.11 L583.81 343.12 L584.72 343.13 L585.63 343.14 L586.55 343.16 L587.46 343.17 L588.37 343.18 L589.28 343.19 L590.19 343.21 L591.11 343.22 L592.02 343.23 L592.93 343.24 L593.84 343.25 L594.75 343.26 L595.67 343.28 L596.58 343.29 L597.49 343.30 L598.40 343.31 L599.31 343.32 L600.23 343.33 L601.14 343.34 L602.05 343.35 L602.96 343.36 L603.87 343.37 L604.79 343.38 L605.70 343.39 L606.61 343.40 L607.52 343.41 L608.43 343.42 L609.35 343.43 L610.26 343.44 L611.17 343.45 L612.08 343.46 L612.99 343.47 L613.91 343.47 L614.82 343.48 L615.73 343.49 L616.64 343.50 L617.55 343.51 L618.47 343.52 L619.38 343.53 L620.29 343.53 L621.20 343.54 L622.11 343.55 L623.03 343.56 L623.94 343.57 L624.85 343.57 L625.76 343.58 L626.67 343.59 L627.59 343.60 L628.50 343.60 L629.41 343.61 L630.32 343.62 L631.23 343.62 L632.15 343.63 L633.06 343.64 L633.97 343.64 L634.88 343.65 L635.79 343.66 L636.71 343.66 L637.62 343.67 L638.53 343.68 L639.44 343.68 L640.35 343.69 L641.27 343.69 L642.18 343.70 L643.09 343.71 L644.00 343.71 L644.91 343.72 L645.83 343.72 L646.74 343.73 L647.65 343.73 L652.95 343.73" stroke="#009900" stroke-width="10.60"/>
</g>
<g stroke="#000" fill="none">
<rect x="88.95" y="2.50" width="570.05" height="352.30" stroke-width="3.9"/>
<path d="M100.45 2.50 v6.60 M100.45 354.80 v-6.60 M118.69 2.50 v3.90 M118.69 354.80 v-3.90 M136.93 2.50 v3.90 M136.93 354.80 v-3.90 M155.17 2.50 v3.90 M155.17 354.80 v-3.90 M173.41 2.50 v3.90 M173.41 354.80 v-3.90 M191.65 2.50 v6.60 M191.65 354.80 v-6.60 M209.89 2.50 v3.90 M209.89 354.80 v-3.90 M228.13 2.50 v3.90 M228.13 354.80 v-3.90 M246.37 2.50 v3.90 M246.37 354.80 v-3.90 M264.61 2.50 v3.90 M264.61 354.80 v-3.90 M282.85 2.50 v6.60 M282.85 354.80 v-6.60 M301.09 2.50 v3.90 M301.09 354.80 v-3.90 M319.33 2.50 v3.90 M319.33 354.80 v-3.90 M337.57 2.50 v3.90 M337.57 354.80 v-3.90 M355.81 2.50 v3.90 M355.81 354.80 v-3.90 M374.05 2.50 v6.60 M374.05 354.80 v-6.60 M392.29 2.50 v3.90 M392.29 354.80 v-3.90 M410.53 2.50 v3.90 M410.53 354.80 v-3.90 M428.77 2.50 v3.90 M428.77 354.80 v-3.90 M447.01 2.50 v3.90 M447.01 354.80 v-3.90 M465.25 2.50 v6.60 M465.25 354.80 v-6.60 M483.49 2.50 v3.90 M483.49 354.80 v-3.90 M501.73 2.50 v3.90 M501.73 354.80 v-3.90 M519.97 2.50 v3.90 M519.97 354.80 v-3.90 M538.21 2.50 v3.90 M538.21 354.80 v-3.90 M556.45 2.50 v6.60 M556.45 354.80 v-6.60 M574.69 2.50 v3.90 M574.69 354.80 v-3.90 M592.93 2.50 v3.90 M592.93 354.80 v-3.90 M611.17 2.50 v3.90 M611.17 354.80 v-3.90 M629.41 2.50 v3.90 M629.41 354.80 v-3.90 M647.65 2.50 v6.60 M647.65 354.80 v-6.60 M88.95 344.10 h7.00 M659.00 344.10 h-7.00 M88.95 323.33 h4.20 M659.00 323.33 h-4.20 M88.95 302.56 h4.20 M659.00 302.56 h-4.20 M88.95 281.79 h4.20 M659.00 281.79 h-4.20 M88.95 261.02 h4.20 M659.00 261.02 h-4.20 M88.95 240.25 h7.00 M659.00 240.25 h-7.00 M88.95 219.48 h4.20 M659.00 219.48 h-4.20 M88.95 198.71 h4.20 M659.00 198.71 h-4.20 M88.95 177.94 h4.20 M659.00 177.94 h-4.20 M88.95 157.17 h4.20 M659.00 157.17 h-4.20 M88.95 136.40 h7.00 M659.00 136.40 h-7.00 M88.95 115.63 h4.20 M659.00 115.63 h-4.20 M88.95 94.86 h4.20 M659.00 94.86 h-4.20 M88.95 74.09 h4.20 M659.00 74.09 h-4.20 M88.95 53.32 h4.20 M659.00 53.32 h-4.20 M88.95 32.55 h7.00 M659.00 32.55 h-7.00 M88.95 11.78 h4.20 M659.00 11.78 h-4.20" stroke-width="3.6"/>
</g>
<g class="t" font-family="'Liberation Serif', serif" font-weight="bold" font-size="27px" fill="#000" stroke="#000" stroke-width="0.3">
<text transform="translate(100.45 391.0) scale(1 1.03)" text-anchor="middle">0.0</text>
<text transform="translate(191.65 391.0) scale(1 1.03)" text-anchor="middle">0.5</text>
<text transform="translate(282.85 391.0) scale(1 1.03)" text-anchor="middle">1.0</text>
<text transform="translate(374.05 391.0) scale(1 1.03)" text-anchor="middle">1.5</text>
<text transform="translate(465.25 391.0) scale(1 1.03)" text-anchor="middle">2.0</text>
<text transform="translate(556.45 391.0) scale(1 1.03)" text-anchor="middle">2.5</text>
<text transform="translate(647.65 391.0) scale(1 1.03)" text-anchor="middle">3.0</text>
<text transform="translate(83.6 355.10) scale(1 1.03)" text-anchor="end">0.0</text>
<text transform="translate(83.6 251.25) scale(1 1.03)" text-anchor="end">0.5</text>
<text transform="translate(83.6 147.40) scale(1 1.03)" text-anchor="end">1.0</text>
<text transform="translate(83.6 43.55) scale(1 1.03)" text-anchor="end">1.5</text>
<text x="354.7" y="441.5">r</text>
<polygon stroke="none" points="366.7,445.7 369.2,445.7 375.7,423.1 373.2,423.1"/>
<text x="375.9" y="441.5" font-style="italic" stroke="none">l</text>
<text x="382.8" y="445.5" font-size="20px">0</text>
<rect stroke="none" x="12" y="203.4" width="22.4" height="3.5"/>
<rect stroke="none" x="9.8" y="177.9" width="27.5" height="3.8"/>
<text transform="translate(30 201.0) rotate(-90) scale(0.78 1)" x="0" y="0">Ψ</text>
<text transform="translate(19.1 176.7) rotate(-90)" font-size="19px">2</text>
<text transform="translate(30.3 167.2) rotate(-90) skewX(-8)" font-style="italic">l</text>
<text transform="translate(19.1 159.0) rotate(-90)" font-size="19px">2</text>
<text transform="translate(36.7 159.2) rotate(-90)" font-size="20px">0</text>
</g>
</svg>
</body></html>
